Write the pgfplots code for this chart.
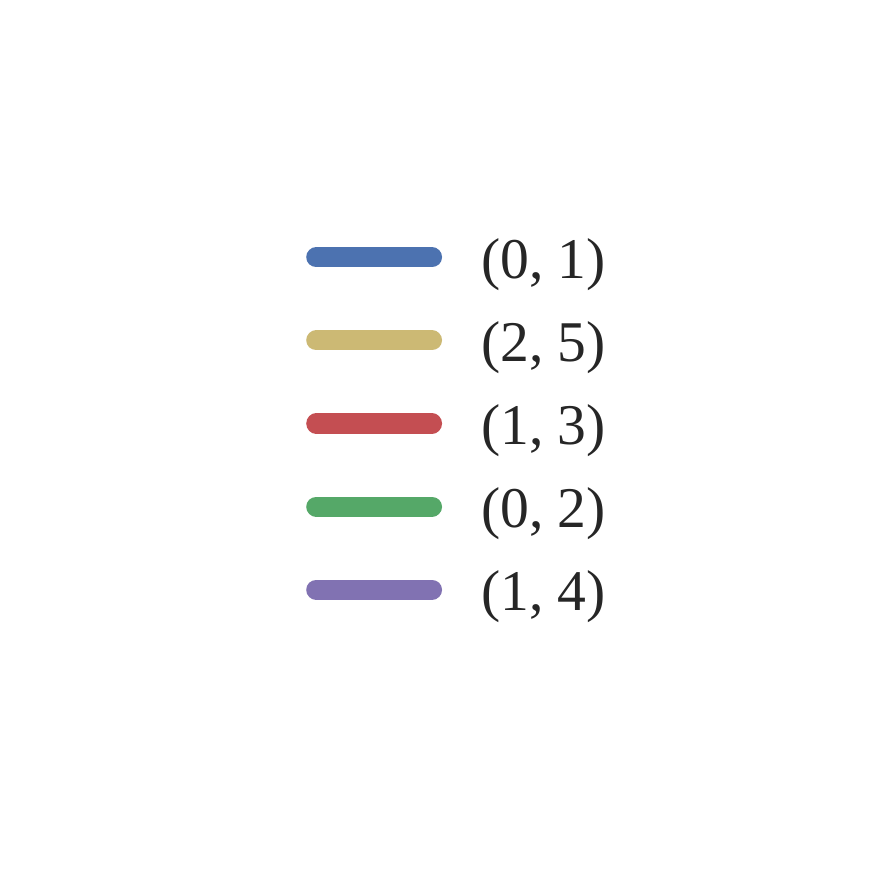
\documentclass[border=0pt]{standalone}
\usepackage{fontspec}
\setmainfont{Liberation Serif}
\usepackage{pgfplots}
\pgfplotsset{compat=1.18}
\definecolor{c1}{HTML}{4C72B0}
\definecolor{c2}{HTML}{CCB974}
\definecolor{c3}{HTML}{C44E52}
\definecolor{c4}{HTML}{55A868}
\definecolor{c5}{HTML}{8172B2}
\definecolor{txt}{HTML}{262626}
\newcommand{\lt}[1]{\raisebox{-2pt}{#1}}
\begin{document}
\begin{tikzpicture}
\useasboundingbox (0,0) rectangle (300pt,300pt);
\begin{axis}[
  at={(154.9pt,156.6pt)}, anchor=center,
  width=200pt, height=200pt,
  hide axis, xmin=0, xmax=1, ymin=0, ymax=1,
  legend style={at={(0.5,0.5)}, anchor=center, draw=none, fill=none,
    font=\fontsize{19.5}{23}\selectfont, text=txt,
    row sep=13.1pt, inner sep=0pt,
    nodes={inner sep=1pt}},
  legend cell align=left,
  legend image code/.code={\draw[#1, line width=6.8pt, line cap=round] (3.4pt,0pt) -- (42.6pt,0pt); \path[draw=none] (0pt,0pt) -- (58.2pt,0pt);},
]
\addlegendimage{c1}
\addlegendentry{\lt{(0, 1)}}
\addlegendimage{c2}
\addlegendentry{\lt{(2, 5)}}
\addlegendimage{c3}
\addlegendentry{\lt{(1, 3)}}
\addlegendimage{c4}
\addlegendentry{\lt{(0, 2)}}
\addlegendimage{c5}
\addlegendentry{\lt{(1, 4)}}
\end{axis}
\end{tikzpicture}
\end{document}
